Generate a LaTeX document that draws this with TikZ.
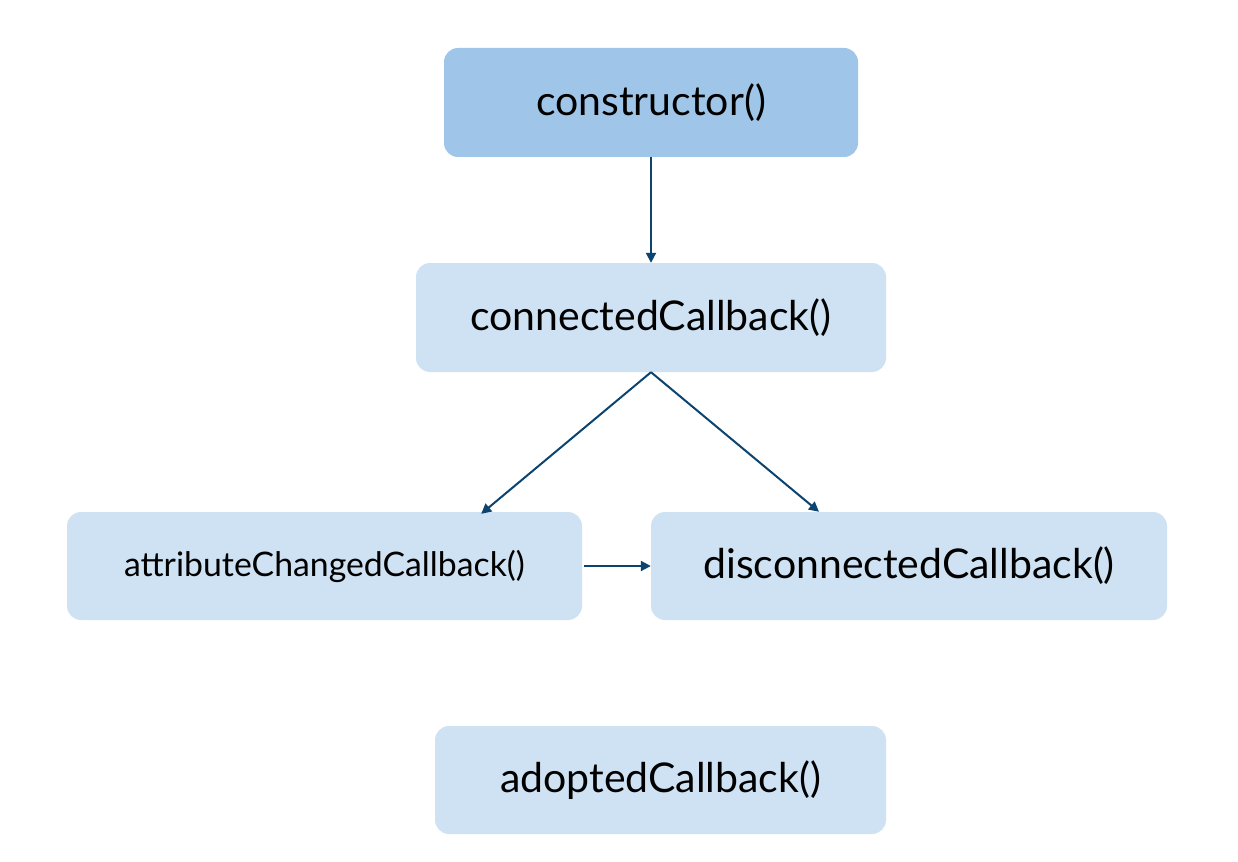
\documentclass[tikz,border=0pt]{standalone}
\usepackage{fontspec}
\setmainfont{Lato}
\usetikzlibrary{arrows.meta}
\definecolor{boxdark}{HTML}{9FC5E8}
\definecolor{boxlight}{HTML}{CFE2F3}
\definecolor{arrowblue}{HTML}{0B4470}
\tikzset{
  stagebox/.style={rounded corners=14pt, inner sep=0pt, fill=boxlight, draw=none, font=\fontsize{41}{46}\selectfont},
  flow/.style={draw=arrowblue, line width=2pt, -{Triangle[length=10pt,width=10pt]}},
}
\begin{document}
\begin{tikzpicture}[x=1pt,y=-1pt]
\useasboundingbox (0,0) rectangle (1238,861);
\fill[white] (0,0) rectangle (1238,861);
% lifecycle callbacks
\node[stagebox, fill=boxdark, minimum width=414pt, minimum height=109pt] (ctor) at (651,102.5) {constructor()};
\node[stagebox, minimum width=470pt, minimum height=109pt] (conn) at (651,317.5) {connectedCallback()};
\node[stagebox, minimum width=515pt, minimum height=108pt, font=\fontsize{33.8}{38}\selectfont] (attr) at (324.5,566) {attributeChangedCallback()};
\node[stagebox, minimum width=516pt, minimum height=108pt] (disc) at (909,566) {disconnectedCallback()};
\node[stagebox, minimum width=451pt, minimum height=108pt] (adopt) at (660.5,780) {adoptedCallback()};
% transitions
\draw[flow] (ctor.south) -- (conn.north);
\draw[flow] (conn.south) -- ([xshift=-101pt,yshift=-2pt]attr.north east);
\draw[flow] (conn.south) -- ([xshift=-90pt]disc.north);
\draw[flow] ([xshift=2pt]attr.east) -- (disc.west);
\end{tikzpicture}
\end{document}
